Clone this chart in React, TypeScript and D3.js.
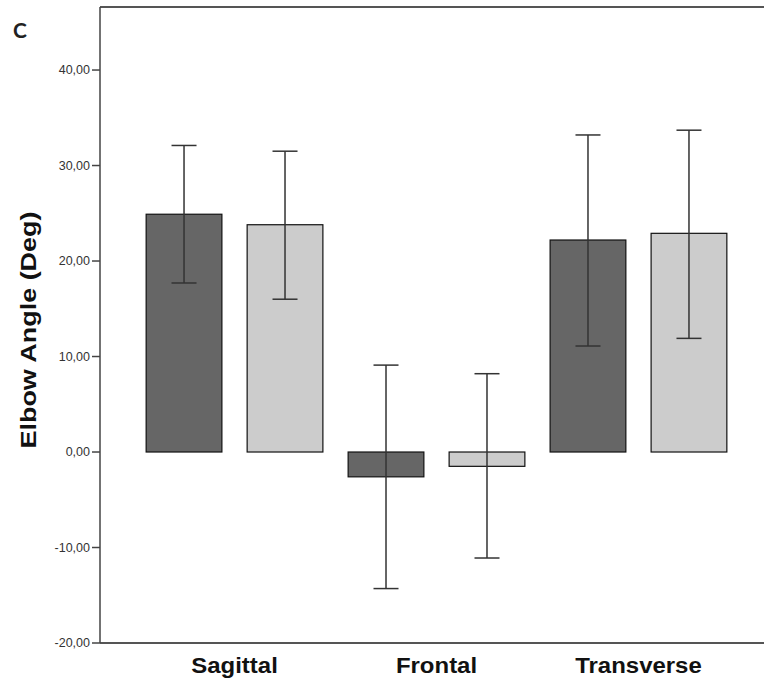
import React from 'react';
import * as d3 from 'd3';

// chart values
const planes = ['Sagittal', 'Frontal', 'Transverse'];
const series = ['group1', 'group2'];
const means = [
  [24.9, 23.8],
  [-2.6, -1.5],
  [22.2, 22.9],
];
const lower = [
  [17.7, 16.0],
  [-14.3, -11.1],
  [11.1, 11.9],
];
const upper = [
  [32.1, 31.5],
  [9.1, 8.2],
  [33.2, 33.7],
];
const yTicks = [-20, -10, 0, 10, 20, 30, 40];
const barColors = ['#666666', '#cccccc'];

const width = 764;
const height = 686;
const plot = {left: 100, top: 7, right: 773, bottom: 643};

export default function App() {
  const y = d3.scaleLinear().domain([-20, 46.6]).range([plot.bottom, plot.top]);
  const x0 = d3
    .scaleBand()
    .domain(planes)
    .range([plot.left, plot.right])
    .paddingInner(0)
    .paddingOuter(0.166);
  const x1 = d3
    .scaleBand()
    .domain(series)
    .range([0, x0.bandwidth()])
    .paddingInner(0.25)
    .paddingOuter(0.125);
  const fmt = (v: number) => d3.format('.2f')(v).replace('.', ',').replace('−', '-');
  const capW = 25;

  return (
    <svg
      width={width}
      height={height}
      style={{position: 'absolute', left: 0, top: 0, background: '#fff'}}
      fontFamily="'Liberation Sans', Arial, sans-serif"
    >
      <text x={13} y={38} fontSize={21} fontWeight="bold" fill="#222" fontFamily="Lato, sans-serif">C</text>

      {/* frame */}
      <line x1={plot.left} x2={width} y1={plot.top} y2={plot.top} stroke="#555" strokeWidth={2} />
      <line x1={plot.left} x2={width} y1={plot.bottom} y2={plot.bottom} stroke="#555" strokeWidth={2} />
      <line x1={plot.left} x2={plot.left} y1={plot.top} y2={plot.bottom} stroke="#444" strokeWidth={1.5} />

      {yTicks.map(t => (
        <g key={t} transform={`translate(0,${y(t)})`}>
          <line x1={plot.left - 8} x2={plot.left} stroke="#444" strokeWidth={1.5} />
          <text x={plot.left - 10} dy="0.35em" textAnchor="end" fontSize={12.5} fill="#333">
            {fmt(t)}
          </text>
        </g>
      ))}

      <text
        transform={`translate(36,330) rotate(-90)`}
        textAnchor="middle"
        fontSize={22}
        fontWeight="bold"
        fill="#111"
        textLength={237}
        lengthAdjust="spacingAndGlyphs"
      >
        Elbow Angle (Deg)
      </text>

      {planes.map((p, i) => (
        <g key={p} transform={`translate(${x0(p)},0)`}>
          {series.map((s, j) => {
            const v = means[i][j];
            const bx = x1(s) as number;
            const cx = bx + x1.bandwidth() / 2;
            return (
              <g key={s}>
                <rect
                  x={bx}
                  y={y(Math.max(0, v))}
                  width={x1.bandwidth()}
                  height={Math.abs(y(v) - y(0))}
                  fill={barColors[j]}
                  stroke="#111"
                  strokeWidth={1.2}
                />
                <line x1={cx} x2={cx} y1={y(upper[i][j])} y2={y(lower[i][j])} stroke="#333" strokeWidth={1.5} />
                <line x1={cx - capW / 2} x2={cx + capW / 2} y1={y(upper[i][j])} y2={y(upper[i][j])} stroke="#333" strokeWidth={1.5} />
                <line x1={cx - capW / 2} x2={cx + capW / 2} y1={y(lower[i][j])} y2={y(lower[i][j])} stroke="#333" strokeWidth={1.5} />
              </g>
            );
          })}
          <text
            transform={`translate(${x0.bandwidth() / 2},${plot.bottom + 30}) scale(1.09,1)`}
            textAnchor="middle"
            fontSize={22}
            fontWeight="bold"
            fill="#111"
          >
            {p}
          </text>
        </g>
      ))}
    </svg>
  );
}
